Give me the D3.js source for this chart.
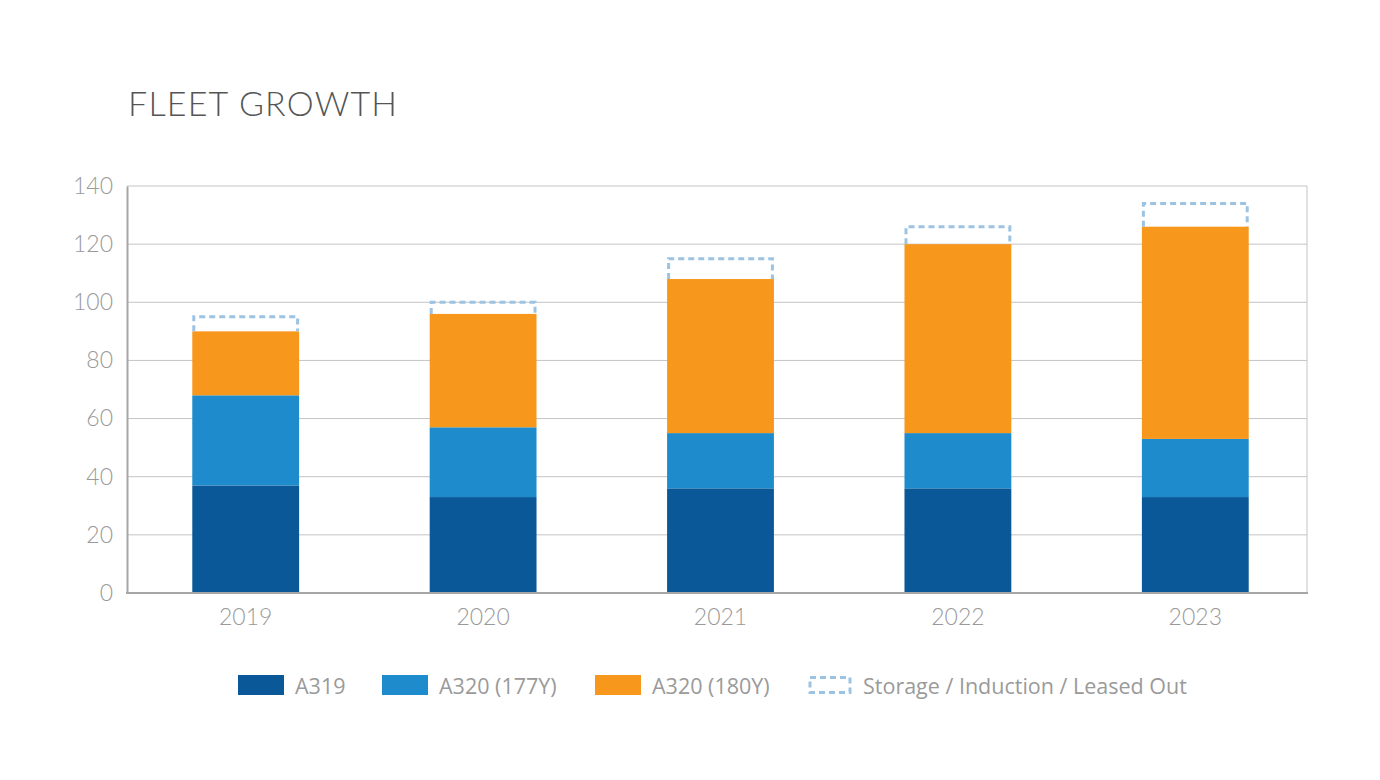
<!DOCTYPE html>
<html><head><meta charset="utf-8">
<script src="https://cdn.jsdelivr.net/npm/d3@7"></script>
<style>body{margin:0;background:#fff}svg{display:block}</style>
</head><body>
<svg id="c" width="1380" height="780"></svg>
<script>
const years = ["2019","2020","2021","2022","2023"];
const a319 = [37, 33, 36, 36, 33];
const a320_177 = [31, 24, 19, 19, 20];
const a320_180 = [22, 39, 53, 65, 73];
const storage = [5, 4, 7, 6, 8];
const yTicks = [0,20,40,60,80,100,120,140];
const seriesNames = ["A319","A320 (177Y)","A320 (180Y)"];
const seriesColors = ["#0b5899","#1e8bcc","#f7981d"];
const storageName = "Storage / Induction / Leased Out";
const storageColor = "#9dc3e3";

const svg = d3.select("#c");
const L = 127, R = 1307, T = 186, B = 593;
const x = d3.scaleBand().domain(years).range([L, 1314]).paddingInner(0.55).paddingOuter(0.275);
const y = d3.scaleLinear().domain([0, 140]).range([B, T]);

svg.append("text").attr("x", 128).attr("y", 116)
  .attr("font-family", "Lato, 'Open Sans', sans-serif").attr("font-weight", 300)
  .attr("font-size", 34).attr("fill", "#555")
  .attr("textLength", 269).attr("lengthAdjust", "spacing").text("FLEET GROWTH");

// grid
svg.append("g").selectAll("line").data(yTicks.filter(d => d > 0)).join("line")
  .attr("x1", L).attr("x2", R).attr("y1", d => y(d)).attr("y2", d => y(d))
  .attr("stroke", "#c4c4c4").attr("stroke-width", 1);
svg.append("line").attr("x1", R).attr("x2", R).attr("y1", T).attr("y2", B)
  .attr("stroke", "#c4c4c4").attr("stroke-width", 1);

// stacks
const rows = years.map((yr, i) => ({year: yr, s0: a319[i], s1: a320_177[i], s2: a320_180[i], st: storage[i]}));
const stack = d3.stack().keys(["s0","s1","s2"])(rows);
svg.append("g").selectAll("g").data(stack).join("g")
  .attr("fill", (d, i) => seriesColors[i])
  .selectAll("rect").data(d => d).join("rect")
  .attr("x", d => x(d.data.year)).attr("width", x.bandwidth())
  .attr("y", d => y(d[1])).attr("height", d => y(d[0]) - y(d[1]));

// storage dashed boxes (open bottom)
svg.append("g").selectAll("path").data(rows).join("path")
  .attr("d", d => {
    const base = d.s0 + d.s1 + d.s2, top = base + d.st;
    const x0 = x(d.year) + 1.5, x1 = x(d.year) + x.bandwidth() - 1.5;
    return `M${x0},${y(base)}V${y(top)}H${x1}V${y(base)}`;
  })
  .attr("fill", "none").attr("stroke", storageColor).attr("stroke-width", 3)
  .attr("stroke-dasharray", "6,4");

// axes
const yAxis = svg.append("g").attr("transform", `translate(${L},0)`)
  .call(d3.axisLeft(y).tickValues(yTicks).tickSize(0).tickPadding(14));
yAxis.select(".domain").attr("stroke", "#a6a6a6").attr("stroke-width", 2);
yAxis.selectAll("text").attr("font-family", "Lato, sans-serif").attr("font-weight", 300)
  .attr("font-size", 23).attr("fill", "#9a9a9a");

const xAxis = svg.append("g").attr("transform", `translate(0,${B})`)
  .call(d3.axisBottom(x).tickSize(0).tickPadding(16));
xAxis.select(".domain").remove();
xAxis.selectAll("text").attr("font-family", "Lato, sans-serif").attr("font-weight", 300)
  .attr("font-size", 23).attr("fill", "#9a9a9a");
svg.append("line").attr("x1", L - 1).attr("x2", R + 1).attr("y1", B).attr("y2", B)
  .attr("stroke", "#a6a6a6").attr("stroke-width", 2);

// legend
const legX = [238, 382, 595];
const lg = svg.append("g");
seriesNames.forEach((n, i) => {
  lg.append("rect").attr("x", legX[i]).attr("y", 675).attr("width", 46).attr("height", 20).attr("fill", seriesColors[i]);
  lg.append("text").attr("x", legX[i] + 57).attr("y", 694).attr("font-family", "'Open Sans', sans-serif")
    .attr("font-size", 21.5).attr("fill", "#9a9a9a").text(n);
});
lg.append("rect").attr("x", 810).attr("y", 677.5).attr("width", 40).attr("height", 15)
  .attr("fill", "none").attr("stroke", storageColor).attr("stroke-width", 3).attr("stroke-dasharray", "6,4");
lg.append("text").attr("x", 863).attr("y", 694).attr("font-family", "'Open Sans', sans-serif")
  .attr("font-size", 21.5).attr("fill", "#9a9a9a").text(storageName);
</script>
</body></html>
